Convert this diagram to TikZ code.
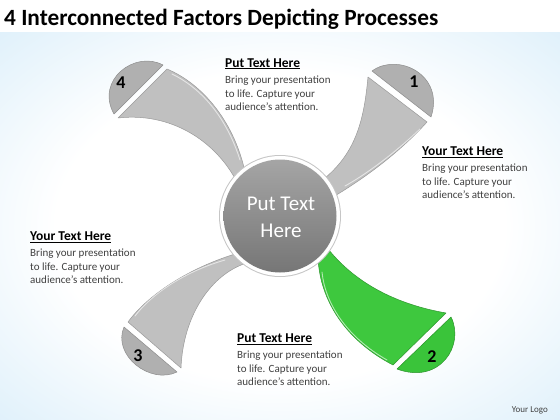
\documentclass[tikz,border=0pt]{standalone}
\usepackage{fontspec}
\setmainfont{Carlito}
\definecolor{armgray}{RGB}{192,192,192}
\definecolor{capgray}{RGB}{176,176,176}
\definecolor{armgreen}{RGB}{62,200,62}
\definecolor{capgreen}{RGB}{58,196,58}
\definecolor{bodytext}{RGB}{64,64,64}
\definecolor{bgblue}{RGB}{205,232,248}
\definecolor{hubtop}{RGB}{165,165,165}
\definecolor{hubbot}{RGB}{118,118,118}
\pgfdeclareradialshading{bgrad}{\pgfpoint{0bp}{0bp}}{color(0bp)=(white); color(20bp)=(white); color(45bp)=(bgblue); color(75bp)=(bgblue)}
\begin{document}
\begin{tikzpicture}[x=1pt,y=-1pt,
  arm/.style={fill=armgray, draw=armgray!80!black, line width=0.5pt, line join=round},
  capg/.style={fill=capgray, draw=capgray!80!black, line width=0.5pt, line join=round},
  armg/.style={fill=armgreen, draw=armgreen!75!black, line width=0.5pt, line join=round},
  capgr/.style={fill=capgreen, draw=capgreen!75!black, line width=0.5pt, line join=round},
  shine/.style={draw=white, opacity=0.6, line width=0.9pt, line cap=round},
  num/.style={font=\fontsize{18}{18}\selectfont\bfseries, text=black, inner sep=0},
  head/.style={font=\fontsize{13.5}{13.5}\selectfont\bfseries, text=black, anchor=base west, inner sep=0},
  body/.style={font=\fontsize{11}{11}\selectfont, text=bodytext, anchor=base west, inner sep=0}]
\useasboundingbox (0,0) rectangle (560,420);
\fill[white] (0,0) rectangle (560,420);
\shade[shading=bgrad] (0,33) rectangle (560,420);

% arm 4
\path[arm] (167,69) .. controls (205,85) and (235,125) .. (245,172) -- (280,216) -- (237,182) .. controls (215,140) and (170,112) .. (118,118) -- cycle;
\path[shine] (172,74) .. controls (205,90) and (228,122) .. (240,160);
\path[capg] (163,65) .. controls (135,50) and (95,80) .. (114,114) -- cycle;
% arm 1
\path[arm] (368,77) .. controls (364,120) and (356,152) .. (325,178) -- (280,216) -- (333,197) .. controls (365,178) and (400,152) .. (427,122) -- cycle;
\path[shine] (420,129) .. controls (398,150) and (370,172) .. (345,186);
\path[capg] (372,71) .. controls (398,52) and (445,75) .. (431,117) -- cycle;
% arm 3
\path[arm] (128,322) .. controls (150,292) and (195,265) .. (242,252) -- (280,216) -- (250,262) .. controls (212,272) and (183,315) .. (181,368) -- cycle;
\path[shine] (135,316) .. controls (155,290) and (190,270) .. (225,260);
\path[capg] (124,327) .. controls (112,355) and (150,385) .. (177,372) -- cycle;
% arm 2
\path[armg] (325,245) .. controls (355,285) and (400,305) .. (446,313) -- (393,365) .. controls (345,340) and (320,300) .. (318,258) -- (280,216) -- cycle;
\path[shine] (387,360) .. controls (345,336) and (325,302) .. (322,272);
\path[capgr] (451,317) .. controls (465,345) and (440,385) .. (397,369) -- cycle;

% hub
\fill[gray!45] (280,216) circle (61);
\fill[white] (280,216) circle (60);
\shade[top color=hubtop, bottom color=hubbot] (280,216) circle (56.5);
\node[font=\fontsize{21}{27}\selectfont, text=white, align=center, inner sep=0] (hubtext) at (281,217) {Put Text\\Here};

% numbers
\node[num] (n1) at (414,82) {1};
\node[num] (n2) at (432,357) {2};
\node[num] (n3) at (138,356) {3};
\node[num] (n4) at (121,83) {4};

% title
\node[font=\fontsize{23.3}{23.3}\selectfont\bfseries, anchor=base west, inner sep=0] (title) at (4,26) {4 Interconnected Factors Depicting Processes};

% text blocks
\node[head] (h1) at (225,67) {\underline{Put Text Here}};
\foreach \i/\t in {1/Bring your presentation, 2/to life. Capture your, 3/audience’s attention.}
  \node[body] (b1\i) at (225,{83.5+13.5*(\i-1)}) {\t};
\node[head] (h2) at (422,155.5) {\underline{Your Text Here}};
\foreach \i/\t in {1/Bring your presentation, 2/to life. Capture your, 3/audience’s attention.}
  \node[body] (b2\i) at (422,{171.5+13.5*(\i-1)}) {\t};
\node[head] (h3) at (30,240.5) {\underline{Your Text Here}};
\foreach \i/\t in {1/Bring your presentation, 2/to life. Capture your, 3/audience’s attention.}
  \node[body] (b3\i) at (30,{256.5+13.5*(\i-1)}) {\t};
\node[head] (h4) at (237,342.5) {\underline{Put Text Here}};
\foreach \i/\t in {1/Bring your presentation, 2/to life. Capture your, 3/audience’s attention.}
  \node[body] (b4\i) at (237,{358.5+13.5*(\i-1)}) {\t};

\node[font=\fontsize{9}{9}\selectfont, text=bodytext, anchor=base east, inner sep=0] (logo) at (548,412) {Your Logo};
\end{tikzpicture}
\end{document}
